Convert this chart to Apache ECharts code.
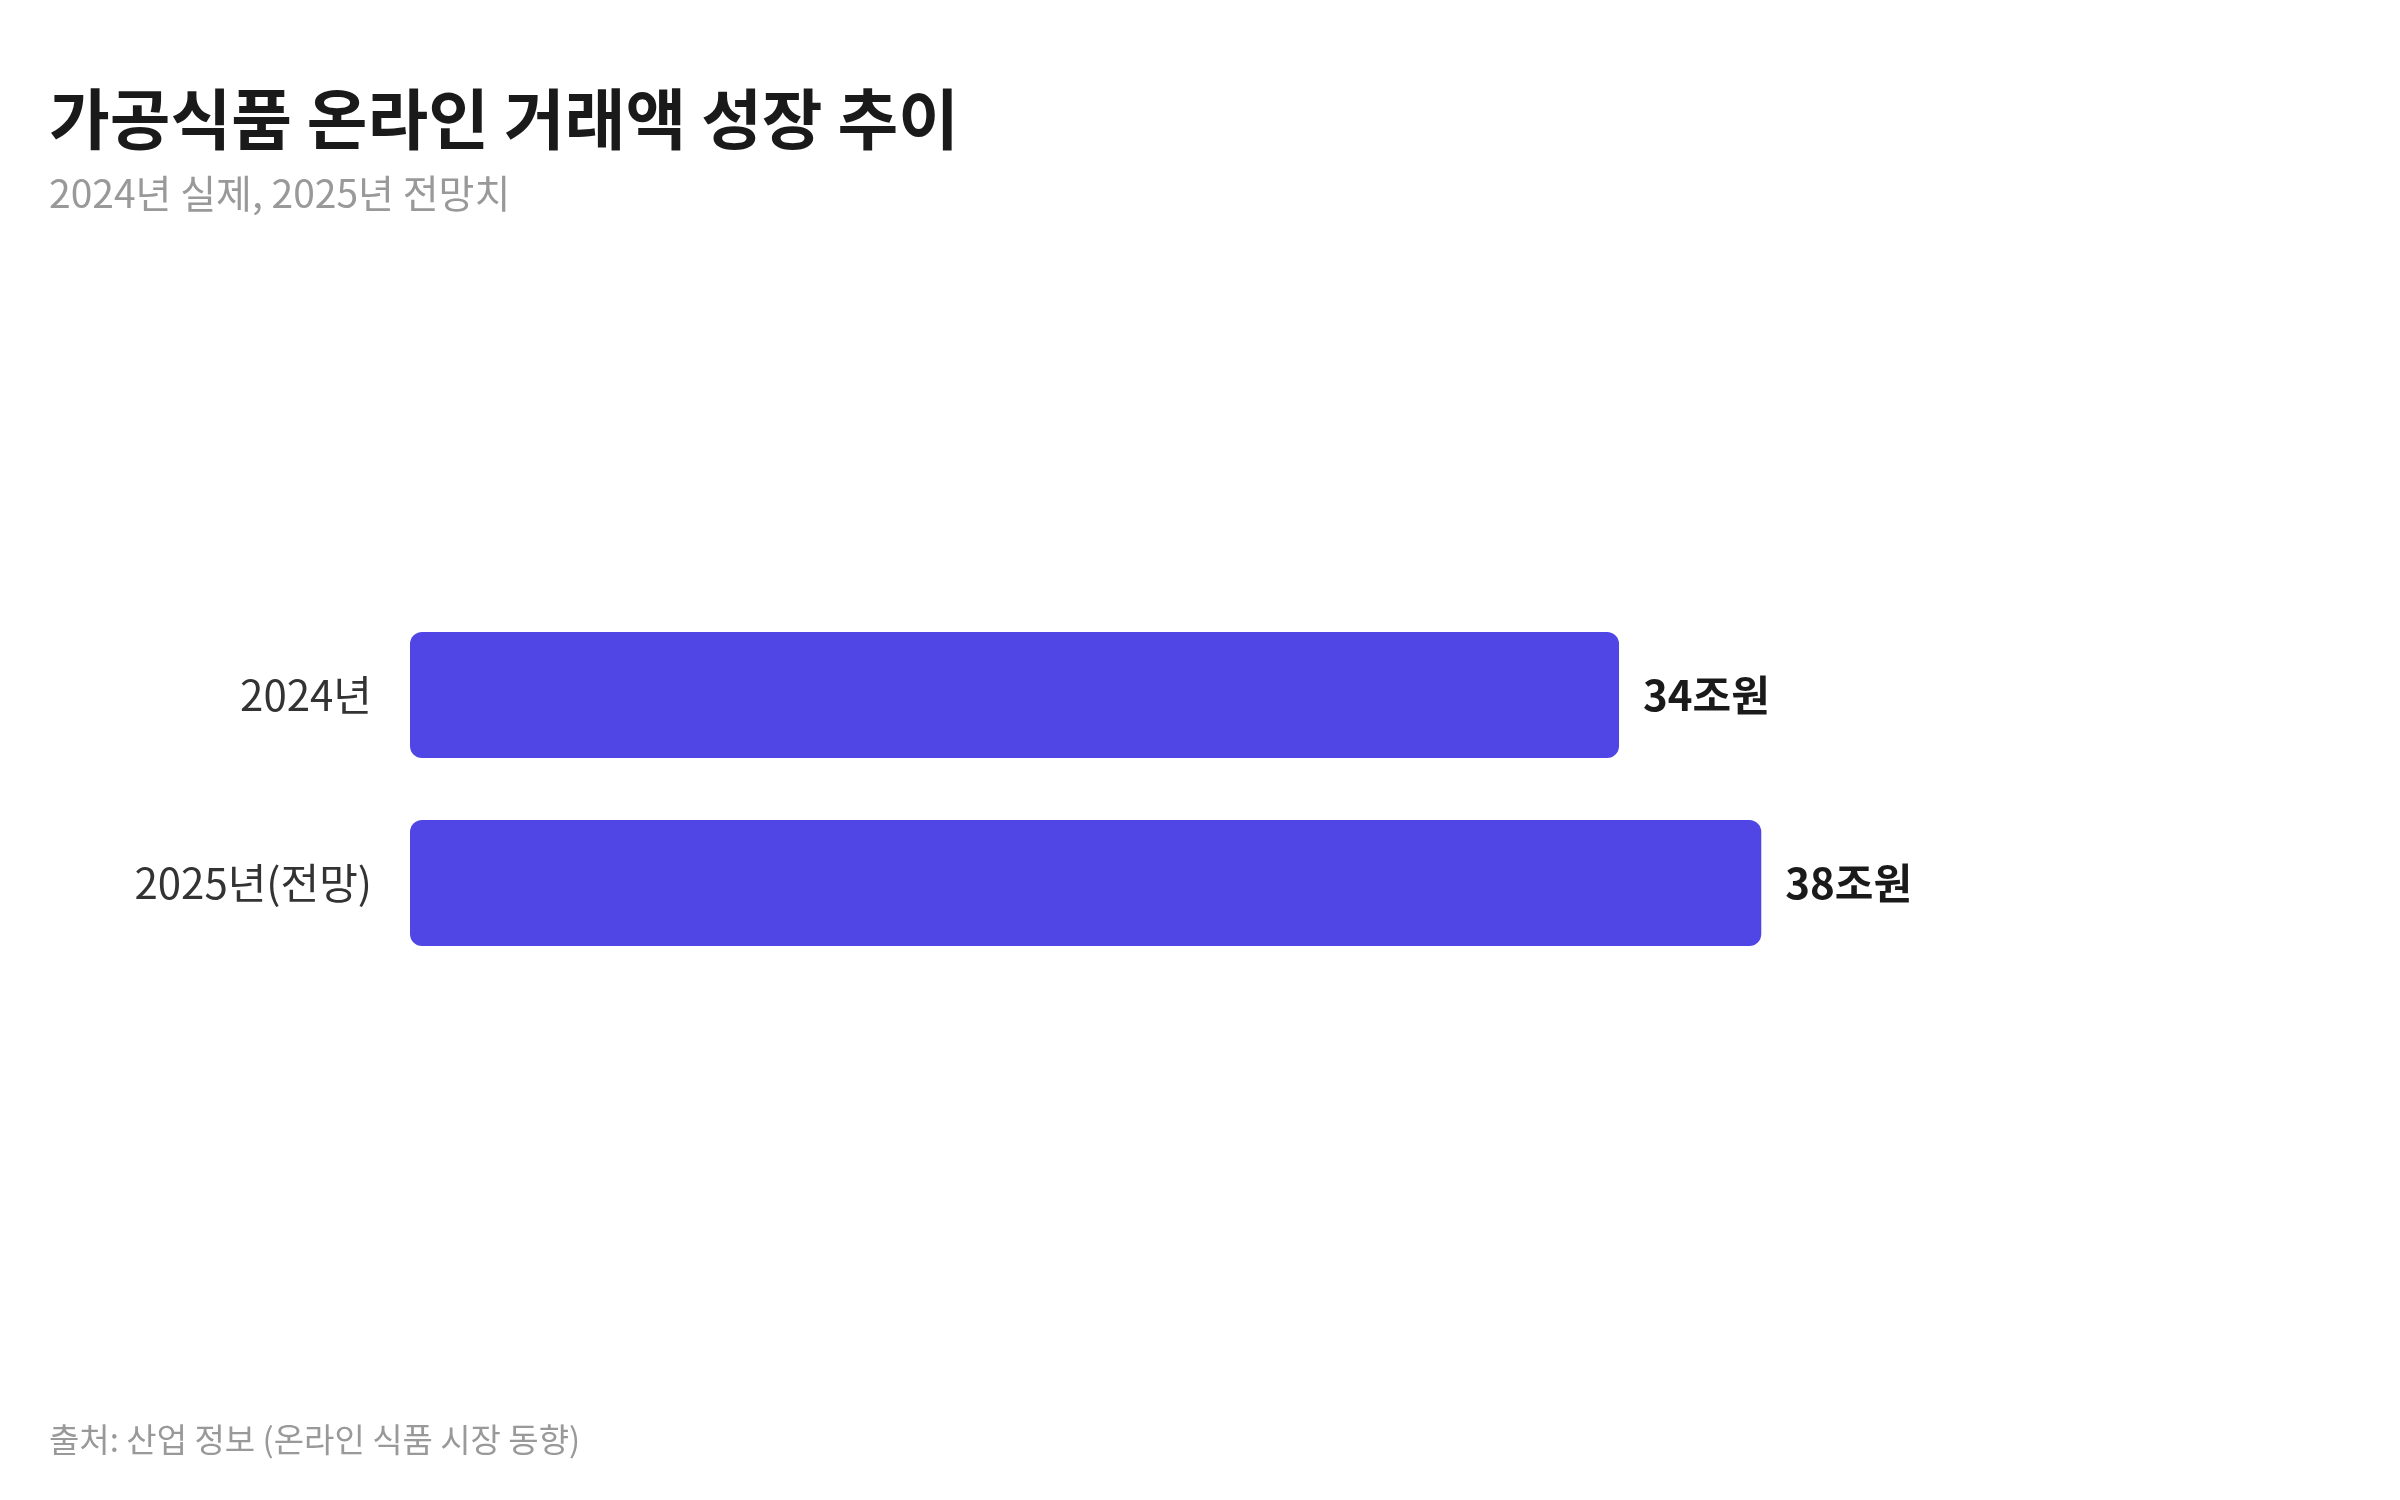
<!DOCTYPE html>
<html><head><meta charset="utf-8">
<script src="https://cdn.jsdelivr.net/npm/echarts@6/dist/echarts.min.js"></script>
<style>html,body{margin:0;padding:0;background:#fff}#c{width:2400px;height:1500px}</style>
</head><body><div id="c"></div>
<script>
const categories = ['2024년', '2025년(전망)'];
const values = [34, 38];
const valueLabels = ['34조원', '38조원'];
const F = '"Noto Sans CJK KR", "Noto Sans", sans-serif';
const chart = echarts.init(document.getElementById('c'));
chart.setOption({
  backgroundColor: '#fff',
  animation: false,
  graphic: [
    {type:'text', left:49, top:86, style:{text:'가공식품 온라인 거래액 성장 추이', font:'bold 66px '+F, fill:'#1a1a1a'}},
    {type:'text', left:49, top:174, style:{text:'2024년 실제, 2025년 전망치', font:'39px '+F, fill:'#999999'}},
    {type:'text', left:49, top:1423, style:{text:'출처: 산업 정보 (온라인 식품 시장 동향)', font:'33px '+F, fill:'#999999'}}
  ],
  grid: {left:410, right:212, top:601, bottom:523},
  xAxis: {type:'value', min:0, max:50, show:false},
  yAxis: {type:'category', data:categories, inverse:true,
    axisLine:{show:false}, axisTick:{show:false},
    axisLabel:{margin:38, fontSize:42, color:'#333', fontFamily:F}},
  series: [{type:'bar', data:values, barWidth:126,
    itemStyle:{color:'#5046e5', borderRadius:12},
    label:{show:true, position:'right', distance:24, fontSize:42, fontWeight:'bold', color:'#1a1a1a', fontFamily:F,
      formatter: p => valueLabels[p.dataIndex]}}]
});
</script></body></html>
